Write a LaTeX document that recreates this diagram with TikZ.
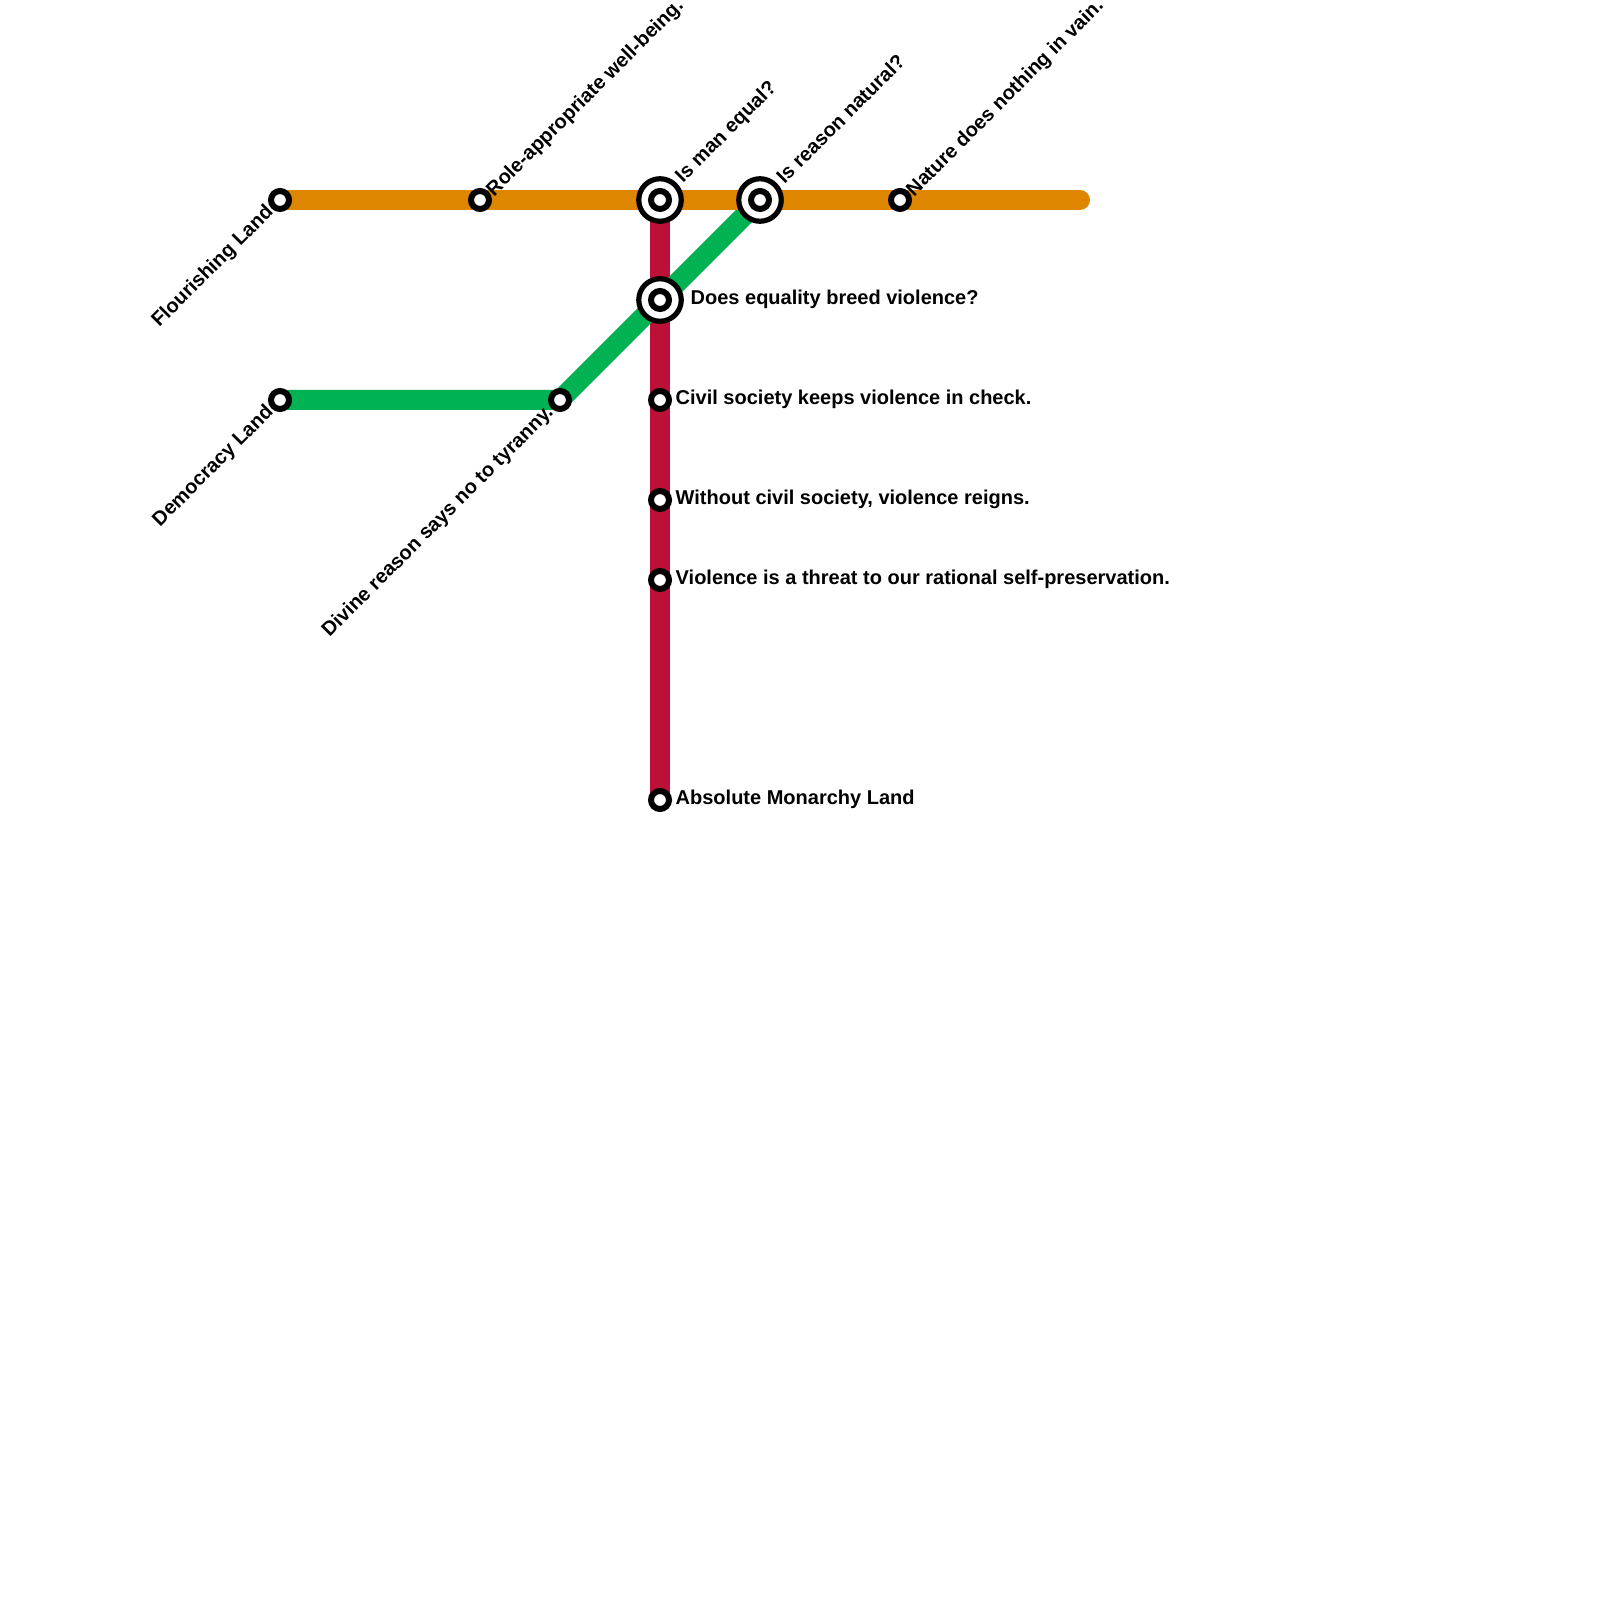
\documentclass[tikz,border=0pt]{standalone}
\usepackage{fontspec}
\setmainfont{Liberation Sans}
\usetikzlibrary{backgrounds}
\definecolor{linhalaranja}{HTML}{DF8600}
\definecolor{linhaverde}{HTML}{00B251}
\definecolor{linhavermelha}{HTML}{BD1038}

\begin{document}
\begin{tikzpicture}[
                stop/.style={draw=black, fill=white, circle, line width=0.06cm, minimum size=0.18cm, inner sep=0pt},
                hub/.style={draw=black, fill=white, circle, line width=0.052cm, minimum size=0.425cm, inner sep=0pt},
                route/.style={line width=0.2cm, line cap=round, line join=round},
                txt/.style={font=\fontsize{5.69pt}{7pt}\selectfont\bfseries, text=black, inner sep=0pt},
                nameup/.style={txt, xshift=0.10cm, yshift=0.06cm, rotate=45, anchor=west},
                namehubup/.style={txt, xshift=0.19cm, yshift=0.20cm, rotate=45, anchor=west},
                namedown/.style={txt, xshift=-0.09cm, yshift=-0.09cm, rotate=45, anchor=east},
                nameright/.style={txt, xshift=0.15cm, yshift=0.005cm, anchor=west}
            ]
                \useasboundingbox (0,0) rectangle (16,-16);

                \node[stop] (flourishing) at (2.8,-2) {};
                \node[stop] (role) at (4.8,-2) {};
                \node[hub] (man) at (6.6,-2) {};
                \node[stop] (maninner) at (6.6,-2) {};
                \node[hub] (reason) at (7.6,-2) {};
                \node[stop] (reasoninner) at (7.6,-2) {};
                \node[stop] (nature) at (9,-2) {};
                \coordinate (laranjaend) at (10.8,-2);

                \node[stop] (democracy) at (2.8,-4) {};
                \node[stop] (divine) at (5.6,-4) {};
                \node[hub] (equality) at (6.6,-3) {};
                \node[stop] (equalityinner) at (6.6,-3) {};

                \node[stop] (civil) at (6.6,-4) {};
                \node[stop] (without) at (6.6,-5) {};
                \node[stop] (threat) at (6.6,-5.8) {};
                \node[stop] (monarchy) at (6.6,-8) {};

                \begin{scope}[on background layer]
                    \fill[white] (0,0) rectangle (16,-16);
                    \draw[route, linhavermelha] (man.center) -- (monarchy.center);
                    \draw[route, linhaverde] (democracy.center) -- (divine.center) -- (reason.center);
                    \draw[route, linhalaranja] (flourishing.center) -- (laranjaend);
                \end{scope}

                \node[namedown] (lflourishing) at (flourishing) {Flourishing Land};
                \node[namedown] (ldemocracy) at (democracy) {Democracy Land};
                \node[namedown] (ldivine) at (divine) {Divine reason says no to tyranny.};
                \node[nameup] (lrole) at (role) {Role-appropriate well-being.};
                \node[nameup] (lnature) at (nature) {Nature does nothing in vain.};
                \node[namehubup] (lman) at (man) {Is man equal?};
                \node[namehubup] (lreason) at (reason) {Is reason natural?};
                \node[nameright, xshift=0.15cm] (lequality) at (equality) {Does equality breed violence?};
                \node[nameright] (lcivil) at (civil) {Civil society keeps violence in check.};
                \node[nameright] (lwithout) at (without) {Without civil society, violence reigns.};
                \node[nameright] (lthreat) at (threat) {Violence is a threat to our rational self-preservation.};
                \node[nameright] (lmonarchy) at (monarchy) {Absolute Monarchy Land};
            \end{tikzpicture}
\end{document}
